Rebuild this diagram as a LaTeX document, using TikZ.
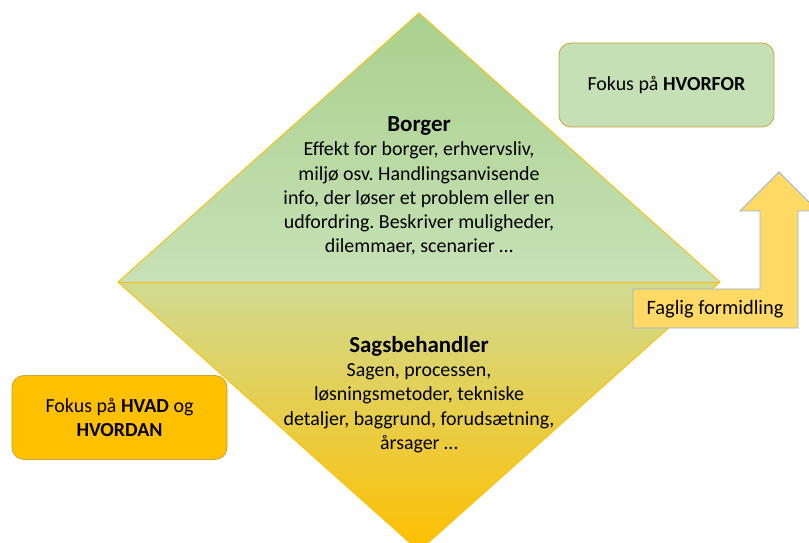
\documentclass[tikz,border=0pt]{standalone}
\usepackage{fontspec}
\setmainfont{Carlito}
\frenchspacing
\definecolor{gTop}{HTML}{A9D18E}
\definecolor{gBot}{HTML}{C7E1B6}
\definecolor{yTop}{HTML}{D0DB92}
\definecolor{yBot}{HTML}{FFC000}
\definecolor{gold}{HTML}{FFC000}
\definecolor{boxedge}{HTML}{C9A437}
\definecolor{lgreen}{HTML}{C5E0B4}
\definecolor{arrowfill}{HTML}{FFD966}
\definecolor{arrowedge}{HTML}{8FB4DE}
\newcommand{\titlefont}{\fontsize{23}{24.3}\selectfont\bfseries}
\begin{document}
\begin{tikzpicture}[x=1bp,y=-1bp,
  maintext/.style={align=center,font=\fontsize{20}{24.3}\selectfont,text=black,inner sep=0pt},
  focusbox/.style={draw=boxedge,line width=0.8bp,rounded corners=12bp,minimum width=215bp,minimum height=84bp,align=center,font=\fontsize{20}{24}\selectfont,text=black},
  edge/.style={draw=gold,line width=0.9bp}]
\useasboundingbox (0,0) rectangle (809,543);
\fill[white] (0,0) rectangle (809,543);
% diamond
\coordinate (T) at (419,13);
\coordinate (L) at (118,282);
\coordinate (R) at (720,282);
\coordinate (B) at (419,551);
\shade[top color=gTop,bottom color=gBot] (T) -- (R) -- (L) -- cycle;
\shade[top color=yTop,bottom color=yBot] (L) -- (R) -- (B) -- cycle;
\draw[edge] (L) -- (T) -- (R) -- (B) -- cycle;
\draw[edge] (L) -- (R);
\node[maintext] (borger) at (419,186) {{\titlefont Borger}\\Effekt for borger, erhvervsliv,\\miljø osv. Handlingsanvisende\\info, der løser et problem eller en\\udfordring. Beskriver muligheder,\\dilemmaer, scenarier …};
\node[maintext] (sags) at (419,394.5) {{\titlefont Sagsbehandler}\\Sagen, processen,\\løsningsmetoder, tekniske\\detaljer, baggrund, forudsætning,\\årsager …};
% focus boxes
\node[focusbox,fill=lgreen] (hvorfor) at (666.5,85) {Fokus på \textbf{HVORFOR}};
\node[focusbox,fill=gold] (hvad) at (119.5,417.5) {Fokus på \textbf{HVAD} og\\\textbf{HVORDAN}};
% bent-up arrow
\draw[fill=arrowfill,draw=arrowedge,line width=0.8bp]
  (633,289) -- (760,289) -- (760,211) -- (740,211) -- (779,172) -- (818,211) -- (798,211) -- (798,328) -- (633,328) -- cycle;
\node[font=\fontsize{20.5}{24}\selectfont,text=black] (faglig) at (715,309.5) {Faglig formidling};
\end{tikzpicture}
\end{document}
